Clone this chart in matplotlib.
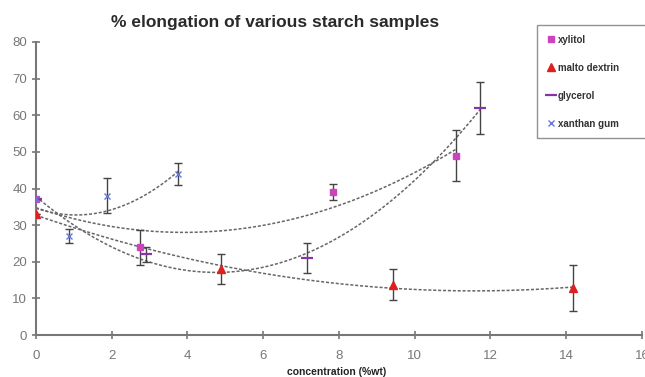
import numpy as np
import matplotlib
matplotlib.use("Agg")
import matplotlib.pyplot as plt

plt.rcParams["font.family"] = ["Liberation Sans", "DejaVu Sans"]

# Data
xyl_x = [0.0, 2.75, 7.85, 11.1]
xyl_y = [37.0, 24.0, 39.0, 49.0]
xyl_err = [0.0, 4.8, 2.2, 7.0]

malto_x = [0.0, 4.89, 9.43, 14.19]
malto_y = [33.0, 18.0, 13.7, 12.8]
malto_err = [0.0, 4.0, 4.2, 6.2]

gly_x = [0.0, 2.9, 7.16, 11.73]
gly_y = [37.0, 22.0, 21.0, 62.0]
gly_err = [0.0, 2.0, 4.0, 7.0]

xan_x = [0.0, 0.87, 1.87, 3.76]
xan_y = [37.0, 27.0, 38.0, 44.0]
xan_err = [0.0, 2.0, 4.8, 3.0]

x_ticks = [0, 2, 4, 6, 8, 10, 12, 14, 16]
y_ticks = [0, 10, 20, 30, 40, 50, 60, 70, 80]

fig = plt.figure(figsize=(6.45, 3.77), dpi=100)
ax = fig.add_axes([0.0558, 0.1114, 0.9395, 0.7772])

series = [
    ("xylitol", xyl_x, xyl_y, xyl_err, dict(marker="s", color="#cc44bb", ms=5, ls="none")),
    ("malto dextrin", malto_x, malto_y, malto_err, dict(marker="^", color="#dd2020", ms=6, ls="none")),
    ("glycerol", gly_x, gly_y, gly_err, dict(marker="_", color="#8833aa", ms=8, mew=1.6, ls="none")),
    ("xanthan gum", xan_x, xan_y, xan_err, dict(marker="x", color="#6677dd", ms=4, mew=1.0, ls="none")),
]

for name, xs, ys, es, style in series:
    xs = np.array(xs); ys = np.array(ys)
    c = np.polyfit(xs, ys, 2)
    xx = np.linspace(xs.min(), xs.max(), 200)
    ax.plot(xx, np.polyval(c, xx), ls=(0, (2, 1.2)), color="#666666", lw=1.1, zorder=2)
    ax.errorbar(xs, ys, yerr=es, fmt="none", ecolor="#444444", elinewidth=1.0,
                capsize=3, capthick=1.0, zorder=3)
    ax.plot(xs, ys, label=name, zorder=4, **style)

ax.set_xlim(0, 16)
ax.set_ylim(0, 80)
ax.set_xticks(x_ticks)
ax.set_yticks(y_ticks)
ax.set_xticklabels([str(t) for t in x_ticks])
ax.set_yticklabels([str(t) for t in y_ticks])
for s in ["top", "right"]:
    ax.spines[s].set_visible(False)
for s in ["left", "bottom"]:
    ax.spines[s].set_color("#777777")
    ax.spines[s].set_linewidth(1.5)
ax.tick_params(axis="both", direction="inout", length=6, width=1.2, color="#777777",
               labelcolor="#777777", labelsize=9.5)
ax.tick_params(axis="x", pad=8)

fig.text(0.427, 0.94, "% elongation of various starch samples", ha="center", va="center",
         fontsize=12.5, fontweight="bold", color="#2a2a2a")
fig.text(0.522, 0.012, "concentration (%wt)", ha="center", va="center",
         fontsize=7.5, fontweight="bold", color="#222222")

leg = fig.legend(loc="upper left", bbox_to_anchor=(0.833, 0.4, 0.19, 0.534), mode="expand",
                 fontsize=7, frameon=True, fancybox=False, labelspacing=1.85, borderpad=1.0,
                 handlelength=0.8, handletextpad=0.3, borderaxespad=0)
leg.get_frame().set_edgecolor("#777777")
leg.get_frame().set_linewidth(1.0)
for t in leg.get_texts():
    t.set_fontweight("bold")
    t.set_color("#333333")

fig.savefig("out.png", dpi=100)
